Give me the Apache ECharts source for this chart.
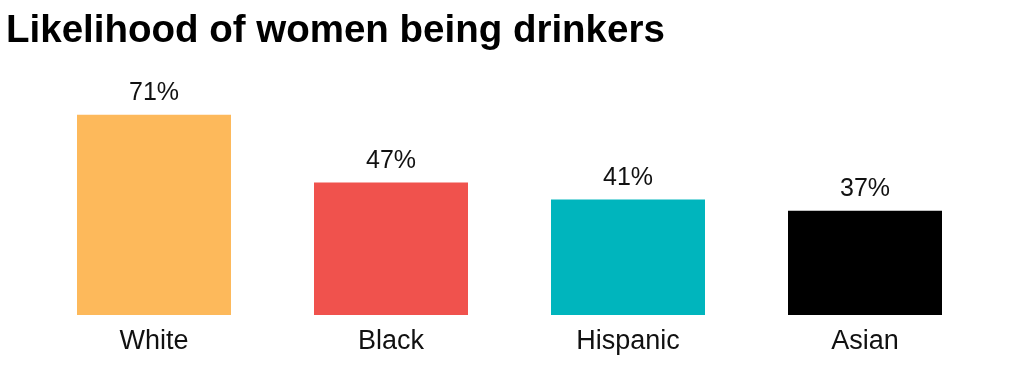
<!DOCTYPE html>
<html>
<head>
<meta charset="utf-8">
<script src="https://cdn.jsdelivr.net/npm/echarts@6/dist/echarts.min.js"></script>
<style>
html,body{margin:0;padding:0;background:#fff;}
#c{width:1024px;height:385px;}
</style>
</head>
<body>
<div id="c"></div>
<script>
const categories = ["White", "Black", "Hispanic", "Asian"];
const values = [71, 47, 41, 37];
const colors = ["#FDB95B", "#F0524D", "#00B5BD", "#000000"];
const titleText = "Likelihood of women being drinkers";

const chart = echarts.init(document.getElementById('c'));
chart.setOption({
  animation: false,
  backgroundColor: '#fff',
  title: {
    text: titleText,
    left: 1,
    top: 7,
    textStyle: {
      fontFamily: '"Liberation Sans", sans-serif',
      fontWeight: 'bold',
      fontSize: 38.5,
      color: '#000'
    }
  },
  grid: { left: 35.5, right: 40.5, top: 33, bottom: 70, containLabel: false },
  xAxis: {
    type: 'category',
    data: categories,
    axisLine: { show: false },
    axisTick: { show: false },
    axisLabel: {
      margin: 13,
      fontFamily: '"Liberation Sans", sans-serif',
      fontSize: 27,
      color: '#111'
    }
  },
  yAxis: {
    type: 'value',
    min: 0,
    max: 100,
    show: false
  },
  series: [{
    type: 'bar',
    barWidth: 154,
    data: values.map((v, i) => ({ value: v, itemStyle: { color: colors[i] } })),
    label: {
      show: true,
      position: 'top',
      distance: 9,
      formatter: '{c}%',
      fontFamily: '"Liberation Sans", sans-serif',
      fontSize: 25,
      color: '#111'
    }
  }]
});
</script>
</body>
</html>
